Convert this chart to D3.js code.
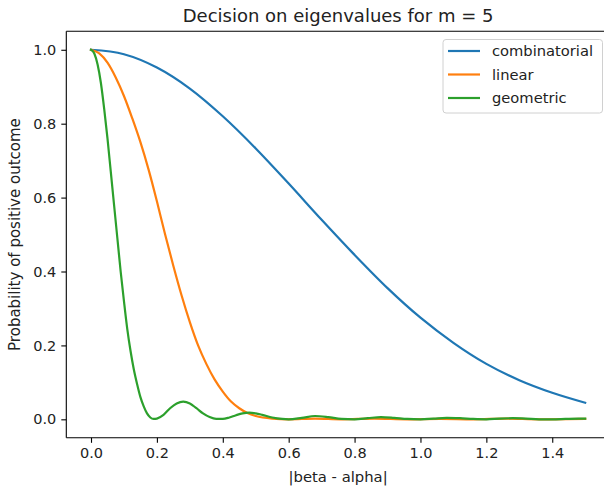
<!DOCTYPE html>
<html>
<head>
<meta charset="utf-8">
<script src="https://cdn.jsdelivr.net/npm/d3@7"></script>
<style>
  html, body { margin: 0; padding: 0; background: #fff; }
  svg { display: block; font-family: "DejaVu Sans", sans-serif; }
</style>
</head>
<body>
<svg id="chart" width="604" height="491"></svg>
<script>
// |beta - alpha| sample positions and probabilities for each decision rule
const combX = [0, 0.1, 0.2, 0.3, 0.4, 0.5, 0.6, 0.7, 0.8, 0.9, 1.0, 1.1, 1.2, 1.3, 1.4, 1.5];
const combY = [1.0, 0.988, 0.952, 0.895, 0.820, 0.733, 0.638, 0.540, 0.445, 0.355, 0.275, 0.207, 0.150, 0.106, 0.072, 0.045];

const linX = [0, 0.025, 0.05, 0.075, 0.1, 0.125, 0.15, 0.175, 0.2, 0.225, 0.25, 0.275, 0.3, 0.325, 0.35,
              0.375, 0.4, 0.425, 0.45, 0.475, 0.5, 0.55, 0.6, 0.68, 0.76, 0.86, 0.96, 1.06, 1.16, 1.26, 1.36, 1.5];
const linY = [1.0, 0.99, 0.965, 0.925, 0.875, 0.815, 0.75, 0.675, 0.59, 0.50, 0.415, 0.335, 0.263, 0.20, 0.15,
              0.108, 0.075, 0.048, 0.03, 0.017, 0.009, 0.002, 0.0, 0.002, 0.0, 0.002, 0.0, 0.001, 0.0, 0.002, 0.0, 0.001];

const geoX = [0, 0.01, 0.02, 0.03, 0.04, 0.05, 0.06, 0.07, 0.08, 0.09, 0.10, 0.11, 0.12, 0.13, 0.14, 0.15,
              0.16, 0.17, 0.18, 0.19, 0.20, 0.22, 0.24, 0.26, 0.28, 0.30, 0.32, 0.34, 0.36, 0.38, 0.40,
              0.42, 0.44, 0.46, 0.48, 0.50, 0.52, 0.55, 0.58, 0.60, 0.64, 0.68, 0.72, 0.76, 0.80, 0.84,
              0.88, 0.92, 0.96, 1.00, 1.04, 1.08, 1.12, 1.16, 1.20, 1.24, 1.28, 1.32, 1.36, 1.40, 1.44, 1.48, 1.50];
const geoY = [1.0, 0.99, 0.96, 0.91, 0.84, 0.76, 0.67, 0.58, 0.49, 0.40, 0.32, 0.245, 0.185, 0.135, 0.095, 0.06,
              0.035, 0.016, 0.005, 0.001, 0.002, 0.012, 0.030, 0.043, 0.048, 0.043, 0.030, 0.016, 0.006, 0.001, 0.001,
              0.005, 0.011, 0.016, 0.018, 0.016, 0.012, 0.005, 0.001, 0.0, 0.004, 0.009, 0.006, 0.001, 0.0, 0.003,
              0.006, 0.004, 0.001, 0.0, 0.002, 0.004, 0.003, 0.001, 0.0, 0.002, 0.003, 0.002, 0.0, 0.0, 0.001, 0.002, 0.002];

const seriesNames = ["combinatorial", "linear", "geometric"];
const seriesColors = ["#1f77b4", "#ff7f0e", "#2ca02c"];
const xTicks = [0.0, 0.2, 0.4, 0.6, 0.8, 1.0, 1.2, 1.4];
const yTicks = [0.0, 0.2, 0.4, 0.6, 0.8, 1.0];

const titleText = "Decision on eigenvalues for m = 5";
const xLabel = "|beta - alpha|";
const yLabel = "Probability of positive outcome";

const series = [
  { name: seriesNames[0], color: seriesColors[0], pts: combX.map((x, i) => [x, combY[i]]) },
  { name: seriesNames[1], color: seriesColors[1], pts: linX.map((x, i) => [x, linY[i]]) },
  { name: seriesNames[2], color: seriesColors[2], pts: geoX.map((x, i) => [x, geoY[i]]) }
];

const svg = d3.select("#chart");

// plot box (right edge runs past the canvas)
const boxL = 66.3, boxR = 609.9, boxT = 31.3, boxB = 437.8;

const x = d3.scaleLinear().domain([-0.075, 1.575]).range([boxL, boxR]);
const y = d3.scaleLinear().domain([-0.05, 1.05]).range([boxB, boxT]);

const line = d3.line()
  .x(d => x(d[0]))
  .y(d => y(d[1]))
  .curve(d3.curveMonotoneX);

const plot = svg.append("g");
series.forEach(s => {
  plot.append("path")
    .datum(s.pts)
    .attr("fill", "none")
    .attr("stroke", s.color)
    .attr("stroke-width", 2.2)
    .attr("stroke-linejoin", "round")
    .attr("stroke-linecap", "square")
    .attr("d", line);
});

// axes
const xAxis = d3.axisBottom(x).tickValues(xTicks).tickFormat(d3.format(".1f")).tickSize(5).tickPadding(5);
const yAxis = d3.axisLeft(y).tickValues(yTicks).tickFormat(d3.format(".1f")).tickSize(5).tickPadding(5);

const gx = svg.append("g").attr("transform", `translate(0,${boxB})`).call(xAxis);
const gy = svg.append("g").attr("transform", `translate(${boxL},0)`).call(yAxis);
[gx, gy].forEach(g => {
  g.select(".domain").remove();
  g.selectAll(".tick line").attr("stroke", "#000").attr("stroke-width", 1.1);
  g.selectAll(".tick text").attr("fill", "#222").style("font-size", "14.5px")
    .style("font-family", "'DejaVu Sans', sans-serif");
});

// spines
const spine = svg.append("g").attr("fill", "none").attr("stroke", "#000").attr("stroke-width", 1.1);
spine.append("line").attr("x1", boxL).attr("x2", boxL).attr("y1", boxT).attr("y2", boxB);
spine.append("line").attr("x1", boxL).attr("x2", boxR).attr("y1", boxB).attr("y2", boxB);
spine.append("line").attr("x1", boxL).attr("x2", boxR).attr("y1", boxT).attr("y2", boxT);
spine.append("line").attr("x1", boxR).attr("x2", boxR).attr("y1", boxT).attr("y2", boxB);

// title and axis labels
svg.append("text")
  .attr("x", (boxL + boxR) / 2).attr("y", 22)
  .attr("text-anchor", "middle")
  .attr("fill", "#222")
  .style("font-size", "18px")
  .text(titleText);

svg.append("text")
  .attr("x", (boxL + boxR) / 2).attr("y", 482)
  .attr("text-anchor", "middle")
  .attr("fill", "#222")
  .style("font-size", "14.8px")
  .text(xLabel);

svg.append("text")
  .attr("transform", `translate(20,${(boxT + boxB) / 2}) rotate(-90)`)
  .attr("text-anchor", "middle")
  .attr("fill", "#222")
  .style("font-size", "15px")
  .text(yLabel);

// legend
const lg = svg.append("g");
lg.append("rect")
  .attr("x", 443).attr("y", 39.5).attr("width", 159.5).attr("height", 73.5)
  .attr("rx", 3).attr("ry", 3)
  .attr("fill", "#fff").attr("fill-opacity", 0.8)
  .attr("stroke", "#d0d0d0").attr("stroke-width", 1);
series.forEach((s, i) => {
  const yy = 51 + i * 23.5;
  lg.append("line")
    .attr("x1", 448).attr("x2", 480).attr("y1", yy).attr("y2", yy)
    .attr("stroke", s.color).attr("stroke-width", 2.2);
  lg.append("text")
    .attr("x", 492).attr("y", yy + 5)
    .attr("fill", "#222")
    .style("font-size", "14.7px")
    .text(s.name);
});
</script>
</body>
</html>
